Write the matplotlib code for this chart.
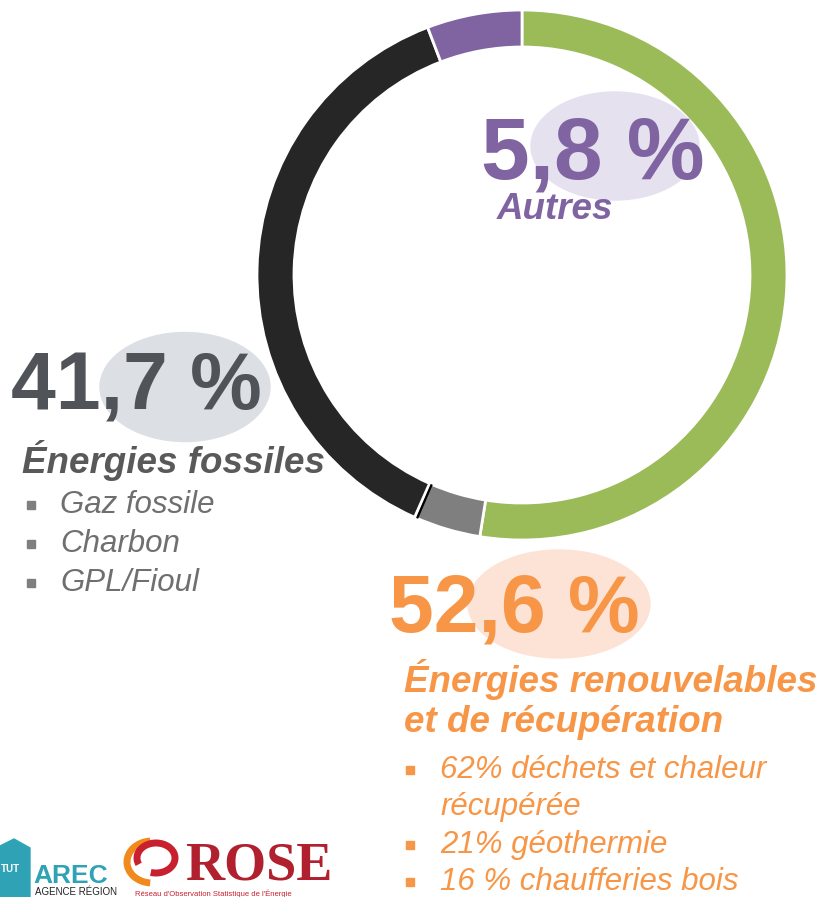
import matplotlib
matplotlib.use("Agg")
import numpy as np
import matplotlib.pyplot as plt
from matplotlib.patches import Ellipse, Polygon, Arc

plt.rcParams['font.family'] = ['Liberation Sans', 'DejaVu Sans']

# donut segments, clockwise from 12 o'clock
seg_names = ["Renouvelables et récupération", "GPL/Fioul", "Fossiles", "Autres"]
seg_shares = [52.6, 4.1, 37.6, 5.8]
seg_colors = ["#9BBB59", "#7F7F7F", "#262626", "#8064A2"]

# labels
pct_autres = "5,8 %"
pct_fossil = "41,7 %"
pct_renew = "52,6 %"
title_autres = "Autres"
title_fossil = "Énergies fossiles"
title_renew = ["Énergies renouvelables", "et de récupération"]
fossil_items = ["Gaz fossile", "Charbon", "GPL/Fioul"]
renew_items = [["62% déchets et chaleur", "récupérée"],
               ["21% géothermie"],
               ["16 % chaufferies bois"]]

PURPLE = "#8064A2"
GREY = "#595959"
ORANGE = "#F79646"

W, H = 823, 897
fig = plt.figure(figsize=(W / 100, H / 100), dpi=100)
ax = fig.add_axes([0, 0, 1, 1])

# donut (y axis is inverted later, so counterclock=True draws clockwise)
cx, cy, R = 522, 275, 265
wedges, _ = ax.pie(seg_shares, colors=seg_colors, startangle=-90, counterclock=True,
                   radius=R, center=(cx, cy),
                   wedgeprops=dict(width=37, edgecolor="white", linewidth=2))

# thin dark mark on the grey/black joint
ang = np.deg2rad(-90 + 360 * sum(seg_shares[:2]) / 100 - 0.8)
ax.plot([cx + (R - 37) * np.cos(ang), cx + R * np.cos(ang)],
        [cy + (R - 37) * np.sin(ang), cy + R * np.sin(ang)],
        color="black", lw=1.6, solid_capstyle="butt", zorder=3)

# soft ellipses behind the big numbers
ax.add_patch(Ellipse((615, 146), 168, 108, color="#E6E1EE", zorder=1))
ax.add_patch(Ellipse((185, 387), 170, 109, color="#DCDFE3", zorder=1))
ax.add_patch(Ellipse((559, 604), 182, 108, color="#FDE3D6", zorder=1))

big = dict(fontweight="bold", va="baseline", ha="left", zorder=4)
ax.text(481, 178, pct_autres, color=PURPLE, fontsize=63, **big)
ax.text(11, 409, pct_fossil, color="#505358", fontsize=58, **big)
ax.text(389, 631, pct_renew, color=ORANGE, fontsize=58, **big)

head = dict(fontweight="bold", style="italic", va="baseline", ha="left", fontsize=26.5, zorder=4)
ax.text(497, 219, title_autres, color=PURPLE, **head)
ax.text(22, 473, title_fossil, color=GREY, **head)
ax.text(404, 692, title_renew[0], color=ORANGE, **head)
ax.text(404, 732, title_renew[1], color=ORANGE, **head)

# fossil bullet list
item = dict(style="italic", va="baseline", ha="left", fontsize=22.5, zorder=4)
for i, s in enumerate(fossil_items):
    yb = 513 + i * 39
    ax.plot(31, yb - 8, marker="s", ms=5.5, color="#7F7F7F", zorder=4)
    ax.text(60, yb, s, color="#6F6F6F", **item)

# renewable bullet list
yb = 778
for lines in renew_items:
    ax.plot(410, yb - 8, marker="s", ms=5.5, color=ORANGE, zorder=4)
    for ln in lines:
        ax.text(440, yb, ln, color=ORANGE, **item)
        yb += 37.5

# logos, bottom left
ax.add_patch(Polygon([(0, 846), (14, 839), (30, 848), (30, 897), (0, 897)],
                     closed=True, color="#2FA3B5", zorder=4))
ax.text(1, 872, "TUT", color="white", fontsize=7, fontweight="bold", va="baseline", zorder=5)
ax.text(33, 883, "AREC", color="#2FA3B5", fontsize=19, fontweight="bold", va="baseline", zorder=5)
ax.text(35, 895, "AGENCE RÉGION", color="#222222", fontsize=7, va="baseline", zorder=5)
ax.add_patch(Arc((152, 862), 50, 42, theta1=95, theta2=265, color="#F08A1C", lw=5, zorder=4))
ax.add_patch(Arc((156, 858), 38, 30, theta1=-200, theta2=110, color="#C8202F", lw=5, zorder=4))
ax.text(185, 879, "ROSE", color="#B0202E", fontsize=39, family="Liberation Serif",
        fontweight="bold", va="baseline", zorder=5)
ax.text(135, 896, "Réseau d'Observation Statistique de l'Énergie", color="#C8202F",
        fontsize=5.5, va="baseline", zorder=5)

ax.set_xlim(0, W)
ax.set_ylim(H, 0)
ax.set_aspect("equal")
ax.axis("off")

fig.savefig("out.png", dpi=100, facecolor="white")
